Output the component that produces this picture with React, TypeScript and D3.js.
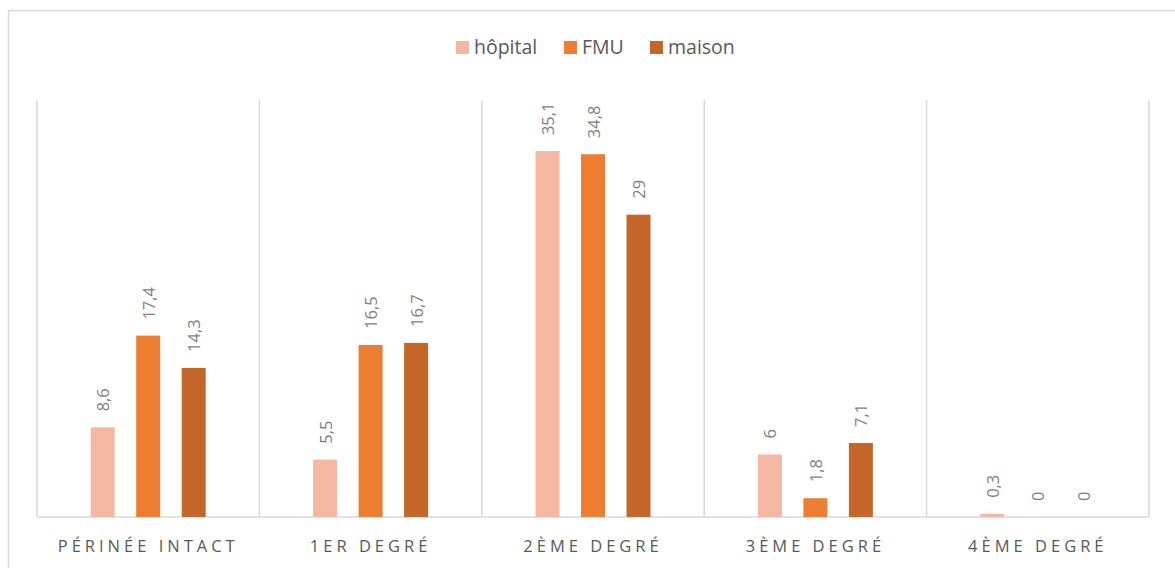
import React from "react";
import * as d3 from "d3";

const categories = ["PÉRINÉE INTACT", "1ER DEGRÉ", "2ÈME DEGRÉ", "3ÈME DEGRÉ", "4ÈME DEGRÉ"];
const seriesNames = ["hôpital", "FMU", "maison"];
const hopital = [8.6, 5.5, 35.1, 6, 0.3];
const fmu = [17.4, 16.5, 34.8, 1.8, 0];
const maison = [14.3, 16.7, 29, 7.1, 0];
const colors = ["#F4B8A2", "#ED7D31", "#C4652A"];

const W = 1175;
const H = 568;
const plot = { left: 37, right: 1149, top: 100, bottom: 517 };
const FONT = "'Open Sans', 'Liberation Sans', sans-serif";

export default function App() {
  const series = [hopital, fmu, maison];
  const x0 = d3.scaleBand<string>().domain(categories).range([plot.left, plot.right]).paddingInner(0).paddingOuter(0);
  const half = x0.bandwidth() / 2;
  const x1 = d3
    .scaleBand<string>()
    .domain(seriesNames)
    .range([half - 68.25, half + 68.25])
    .paddingInner(0.473)
    .paddingOuter(0.2365);
  const y = d3.scaleLinear().domain([0, 40]).range([plot.bottom, plot.top]);
  const fmt = (v: number) => String(v).replace(".", ",");

  const gridXs = categories.map((c) => x0(c)!).concat([plot.right]);

  const legendItems = [
    { name: "hôpital", x: 456 },
    { name: "FMU", x: 564 },
    { name: "maison", x: 650 },
  ];

  return (
    <svg width={W} height={H} style={{ position: "absolute", left: 0, top: 0 }} fontFamily={FONT}>
      <rect x={0} y={0} width={W} height={H} fill="#fff" />
      <rect x={8.5} y={10.5} width={W + 20} height={H + 20} fill="#fff" stroke="#d9d9d9" strokeWidth={1.5} />
      {gridXs.map((gx, i) => (
        <line key={i} x1={gx} x2={gx} y1={plot.top} y2={plot.bottom} stroke="#d9d9d9" strokeWidth={1.5} />
      ))}
      <line x1={plot.left} x2={plot.right} y1={plot.bottom} y2={plot.bottom} stroke="#d9d9d9" strokeWidth={1.5} />
      {categories.map((c, ci) => (
        <g key={c} transform={`translate(${x0(c)},0)`}>
          {seriesNames.map((s, si) => {
            const v = series[si][ci];
            const bx = x1(s)!;
            const bw = x1.bandwidth();
            const top = y(v);
            return (
              <g key={s}>
                <rect x={bx} y={top} width={bw} height={plot.bottom - top} fill={colors[si]} />
                <text
                  transform={`translate(${bx + bw / 2},${top - 16}) rotate(-90)`}
                  fontSize={16.5}
                  fill="#7f7f7f"
                  dominantBaseline="central"
                  textAnchor="start"
                >
                  {fmt(v)}
                </text>
              </g>
            );
          })}
          <text
            x={x0.bandwidth() / 2}
            y={552}
            textAnchor="middle"
            fontSize={16.5}
            letterSpacing={4}
            fill="#595959"
          >
            {c}
          </text>
        </g>
      ))}
      {legendItems.map((l, i) => (
        <g key={l.name}>
          <rect x={l.x} y={41} width={13} height={13} fill={colors[i]} />
          <text x={l.x + 18} y={54} fontSize={19.5} fill="#595959">
            {l.name}
          </text>
        </g>
      ))}
    </svg>
  );
}
